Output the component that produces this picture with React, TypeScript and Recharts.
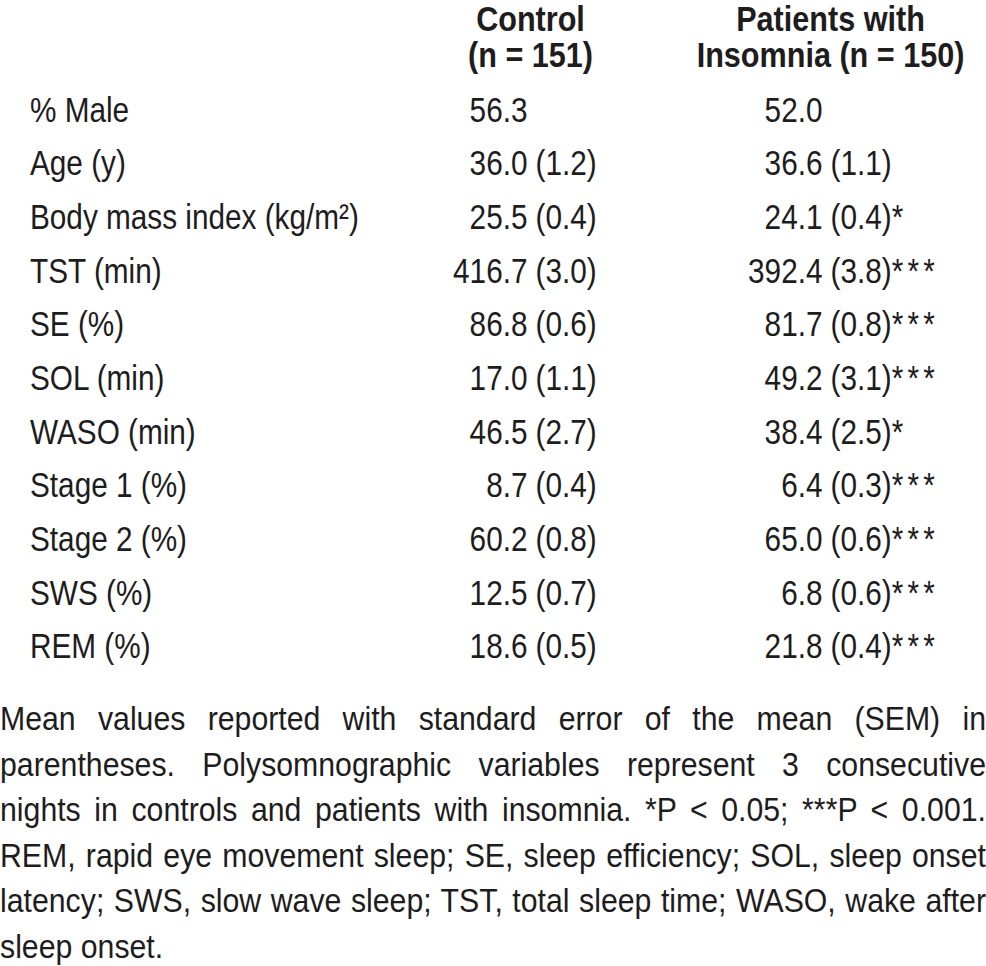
import React from 'react';
import { ScatterChart, Scatter, XAxis, YAxis } from 'recharts';

// no narrow font installed, so squeeze Liberation Sans horizontally
const FONT = '"Liberation Sans", Arial, sans-serif';
const SQUEEZE = 0.85;
const NOTE_SQUEEZE = 0.89;
const INK = '#1e1c1d';

const rows = ['% Male', 'Age (y)', 'Body mass index (kg/m²)', 'TST (min)', 'SE (%)', 'SOL (min)', 'WASO (min)', 'Stage 1 (%)', 'Stage 2 (%)', 'SWS (%)', 'REM (%)'];
const controlMean = [56.3, 36.0, 25.5, 416.7, 86.8, 17.0, 46.5, 8.7, 60.2, 12.5, 18.6];
const controlSem = [null, 1.2, 0.4, 3.0, 0.6, 1.1, 2.7, 0.4, 0.8, 0.7, 0.5];
const insomniaMean = [52.0, 36.6, 24.1, 392.4, 81.7, 49.2, 38.4, 6.4, 65.0, 6.8, 21.8];
const insomniaSem = [null, 1.1, 0.4, 3.8, 0.8, 3.1, 2.5, 0.3, 0.6, 0.6, 0.4];
const insomniaSig = ['', '', '*', '***', '***', '***', '*', '***', '***', '***', '***'];

const groups = ['Control', 'Insomnia'];
const headers: Record<string, string[]> = {
  Control: ['Control', '(n = 151)'],
  Insomnia: ['Patients with', 'Insomnia (n = 150)'],
};

const notes = [
  'Mean values reported with standard error of the mean (SEM) in',
  'parentheses. Polysomnographic variables represent 3 consecutive',
  'nights in controls and patients with insomnia. *P < 0.05; ***P < 0.001.',
  'REM, rapid eye movement sleep; SE, sleep efficiency; SOL, sleep onset',
  'latency; SWS, slow wave sleep; TST, total sleep time; WASO, wake after',
  'sleep onset.',
];

const controlData = rows.map((row, i) => ({ group: groups[0], row, mean: controlMean[i], sem: controlSem[i], sig: '' }));
const insomniaData = rows.map((row, i) => ({ group: groups[1], row, mean: insomniaMean[i], sem: insomniaSem[i], sig: insomniaSig[i] }));

function Txt({ x, y, anchor = 'start', bold = false, size = 35, children }: any) {
  return (
    <g transform={`translate(${x},${y}) scale(${SQUEEZE},1)`}>
      <text x={0} y={0} textAnchor={anchor} fontFamily={FONT} fontSize={size} fontWeight={bold ? 'bold' : 'normal'} fill={INK}>{children}</text>
    </g>
  );
}

function Cell(props: any) {
  const { cx, cy, payload } = props;
  const y = cy + 12;
  return (
    <g>
      <Txt x={cx} y={y} anchor="end">{payload.mean.toFixed(1)}</Txt>
      {payload.sem != null && (
        <Txt x={cx + 8} y={y}>
          {`(${payload.sem.toFixed(1)})`}
          {payload.sig && <tspan letterSpacing={5}>{payload.sig}</tspan>}
        </Txt>
      )}
    </g>
  );
}

function HeaderTick(props: any) {
  const { x, payload } = props;
  const lines = headers[payload.value] || [];
  const mid = payload.value === 'Control' ? x + 3 : x + 8;
  return (
    <g>
      <Txt x={mid} y={31} anchor="middle" bold size={36}>{lines[0]}</Txt>
      <Txt x={mid} y={67} anchor="middle" bold size={36}>{lines[1]}</Txt>
    </g>
  );
}

function RowTick(props: any) {
  const { y, payload } = props;
  return <Txt x={30} y={y + 12}>{payload.value}</Txt>;
}

export default function App() {
  return (
    <div style={{ position: 'absolute', left: 0, top: 0, width: 986, height: 966, background: '#fff', overflow: 'hidden' }}>
      <ScatterChart width={986} height={690} margin={{ top: 3, right: 16, bottom: 17, left: 30 }}>
        <XAxis type="category" dataKey="group" orientation="top" height={80} allowDuplicatedCategory={false}
          axisLine={false} tickLine={false} tick={<HeaderTick />} interval={0} />
        <YAxis type="category" dataKey="row" width={350} allowDuplicatedCategory={false} reversed
          axisLine={false} tickLine={false} tick={<RowTick />} interval={0} />
        <Scatter data={controlData} shape={<Cell />} isAnimationActive={false} />
        <Scatter data={insomniaData} shape={<Cell />} isAnimationActive={false} />
      </ScatterChart>
      <div style={{
        position: 'absolute', left: 0, top: 696, width: 986 / NOTE_SQUEEZE, transform: `scaleX(${NOTE_SQUEEZE})`, transformOrigin: 'left top',
        fontFamily: FONT, fontSize: 34, color: INK, lineHeight: '45.6px',
      }}>
        {notes.map((line, i) => {
          const last = i === notes.length - 1;
          return (
            <div key={i} style={{ textAlign: last ? 'left' : 'justify', textAlignLast: last ? 'left' : 'justify', whiteSpace: 'nowrap' }}>{line}</div>
          );
        })}
      </div>
    </div>
  );
}
